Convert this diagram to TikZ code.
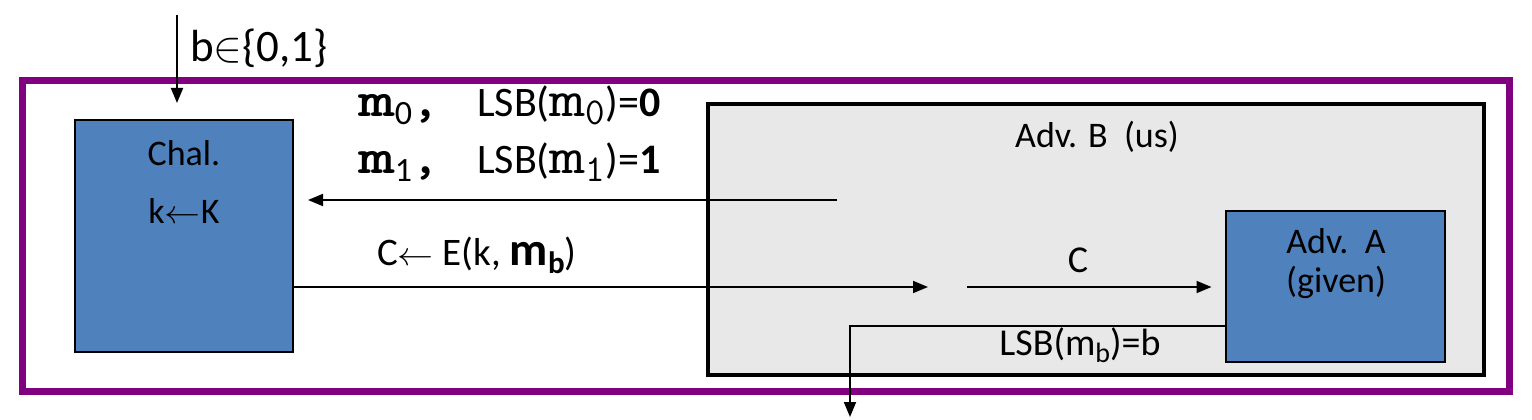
\documentclass[tikz,border=0pt]{standalone}
\usepackage{fontspec}
\usepackage{graphicx}
\setmainfont{Carlito}
\usetikzlibrary{arrows.meta}
\definecolor{framepurple}{RGB}{128,0,128}
\definecolor{boxblue}{RGB}{79,129,189}
\definecolor{advgray}{RGB}{232,232,232}
\newcommand{\fs}[1]{\fontsize{#1}{#1}\selectfont}
\newcommand{\larr}{\scalebox{3.6}[3.3]{\fs{10}$\leftarrow$}}
\newcommand{\elemof}{\scalebox{4.3}{\fs{10}$\in$}}
\newcommand{\boldm}{{\ttfamily\bfseries\fs{50}\scalebox{1.4}[1]{m}}}
\newcommand{\thinm}{{\ttfamily\fs{52}\scalebox{1.35}[1]{m}}}
\tikzset{
  txt/.style={font=\fs{36}, inner sep=0pt},
  conn/.style={line width=1.8pt, -{Triangle[length=15pt,width=12pt]}},
  bluebox/.style={draw=black, line width=2pt, fill=boxblue, inner sep=0pt},
}
\begin{document}
\begin{tikzpicture}[x=1pt,y=-1pt]
\useasboundingbox (0,0) rectangle (1532,420);
% frame
\node[draw=framepurple, line width=7pt, minimum width=1487pt, minimum height=310.5pt, inner sep=0pt] (frame) at (765.5,235.75) {};
% adversary B
\node[draw=black, line width=4pt, fill=advgray, minimum width=776pt, minimum height=271pt, inner sep=0pt] (advB) at (1096,239.5) {};
% challenger
\node[bluebox, minimum width=218pt, minimum height=232pt] (chal) at (184,236) {};
% adversary A
\node[bluebox, minimum width=219pt, minimum height=150.5pt] (advA) at (1335,286.25) {};

% texts
\node[txt, anchor=base] (chalT) at (184,165) {Chal.};
\node[txt, anchor=base] (keyT) at (184,223) {k\larr K};
\node[txt, anchor=base] (advBT) at (1097,147) {Adv. B\ \ (us)};
\node[txt, anchor=base] (advAT1) at (1336,253) {Adv.\ \ A};
\node[txt, anchor=base] (advAT2) at (1336,292) {(given)};
\node[txt, anchor=base west, font=\fs{45}] (bT) at (190,62) {b\elemof\{0,1\}};

\node[txt, anchor=base west] (m0a) at (358,117) {\boldm\raisebox{-8pt}{\fs{34}0}{\ttfamily\bfseries\fs{50},}};
\node[txt, anchor=base west, font=\fs{42}] (m0b) at (477,117) {LSB(\thinm\raisebox{-8pt}{\ttfamily\fs{38}0})=\textbf{0}};
\node[txt, anchor=base west] (m1a) at (358,173) {\boldm\raisebox{-8pt}{\fs{34}1}{\ttfamily\bfseries\fs{50},}};
\node[txt, anchor=base west, font=\fs{42}] (m1b) at (477,173) {LSB(\thinm\raisebox{-8pt}{\ttfamily\fs{38}1})=\textbf{1}};

\node[txt, anchor=base west, font=\fs{39}] (encT) at (377,265) {C\larr\ E(k, {\fs{47}\textbf{m}}\raisebox{-8pt}{\textbf{\fs{31}b}})};
\node[txt, anchor=base, font=\fs{38}] (cT) at (1078,272) {C};
\node[txt, anchor=base, font=\fs{38}] (lsbT) at (1080,355) {LSB(m\raisebox{-7pt}{\fs{28}b})=b};

% connectors
\coordinate (bstart) at (177,15);
\coordinate (bend) at (177,103);
\draw[conn] (bstart) -- (bend);

\coordinate (qstart) at (837,200);
\draw[conn, shorten >=14pt] (qstart) -- (chal.east |- qstart);

\coordinate (cmid) at (928,287);
\draw[conn] (chal.east |- cmid) -- (cmid);

\coordinate (cstart) at (967,287);
\draw[conn, shorten >=13pt] (cstart) -- (advA.west |- cstart);

\coordinate (outcorner) at (850,326);
\coordinate (outend) at (850,417);
\draw[conn] (advA.west |- outcorner) -- (outcorner) -- (outend);
\end{tikzpicture}
\end{document}
